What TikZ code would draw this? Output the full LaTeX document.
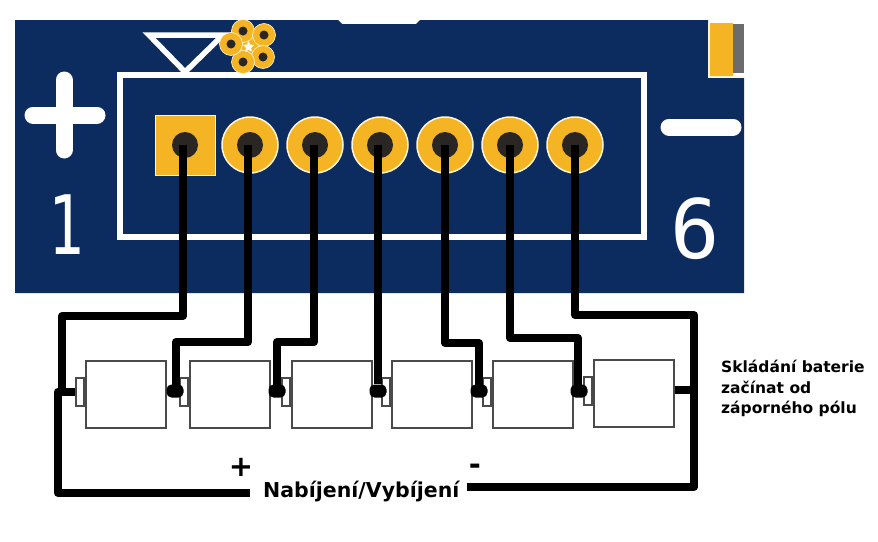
\documentclass[tikz,border=0pt]{standalone}
\usepackage{fontspec}
\setmainfont{DejaVu Sans}
\newfontfamily\silkfont{DejaVu Sans Mono}
\definecolor{navy}{HTML}{0C2B5E}
\definecolor{padyellow}{HTML}{F4B424}
\definecolor{holedark}{HTML}{2A2624}
\definecolor{rim}{HTML}{FFF6D8}
\definecolor{battline}{HTML}{4A4A4A}
\tikzset{
  silk/.style={draw=white,line width=6.5pt,line join=miter},
  bigsign/.style={draw=white,line width=17pt,line cap=round},
  roundpad/.style={circle,fill=padyellow,draw=rim,line width=1.5pt,minimum size=56pt,inner sep=0pt},
  squarepad/.style={rectangle,fill=padyellow,draw=rim,line width=1pt,minimum size=60pt,inner sep=0pt},
  hole/.style={circle,fill=holedark,minimum size=26pt,inner sep=0pt},
  viaring/.style={circle,fill=padyellow,draw=rim,line width=.6pt,minimum size=23pt,inner sep=0pt},
  viahole/.style={circle,fill=holedark,minimum size=9pt,inner sep=0pt},
  wire/.style={draw=black,line width=8pt,line join=round},
  blob/.style={rectangle,rounded corners=5pt,fill=black,minimum width=17pt,minimum height=13pt,inner sep=0pt},
  cellbody/.style={rectangle,fill=white,draw=battline,line width=2pt,minimum width=80pt,minimum height=67pt,inner sep=0pt},
  cellcap/.style={rectangle,fill=white,draw=battline,line width=2pt,minimum width=8pt,minimum height=28pt,inner sep=0pt},
  bold/.style={font=\fontsize{#1}{#1}\selectfont\bfseries,inner sep=0pt,text=black}
}
\begin{document}
\begin{tikzpicture}[x=1pt,y=-1pt]
\useasboundingbox (0,0) rectangle (878,541);
% board
\fill[navy] (15,20) -- (338,20) -- (342,24) -- (416,24) -- (420,20) -- (708,20) -- (708,78) -- (744,78) -- (744,293) -- (15,293) -- cycle;
% corner part
\fill[padyellow] (710,23) rectangle (733,76);
\fill[gray!85!black] (733,24) rectangle (744,73);
\draw[rim,line width=1.5pt] (709,23) -- (709,77) -- (744,77);
% silkscreen
\draw[silk] (120,75) rectangle (644,237);
\draw[silk,line width=5.5pt] (149,35) -- (223,35) -- (185,72) -- cycle;
\draw[bigsign] (64,80) -- (64,150);
\draw[bigsign] (33,115) -- (97,115);
\draw[bigsign] (669,127) -- (733,127);
\node[font=\fontsize{82}{82}\selectfont\silkfont,text=white,inner sep=0pt,anchor=base,xscale=.72] (one) at (66,254) {1};
\node[font=\fontsize{82}{82}\selectfont\silkfont,text=white,inner sep=0pt,anchor=base] (six) at (695,258) {6};
% via cluster
\fill[padyellow] (243,31) -- (264,35) -- (263,57) -- (243,62) -- (231,44) -- cycle;
\foreach \n/\x/\y in {a/243/31,b/264/35,c/263/57,d/243/62,e/231/44}{
  \node[viaring] (via\n) at (\x,\y) {};
}
\foreach \n in {a,b,c,d,e}{\node[viahole] at (via\n.center) {};}
\fill[white] (248.5,41) -- (250,44.5) -- (254,45) -- (251,48) -- (252,51.5) -- (248.5,50) -- (245,51.5) -- (246,48) -- (243,45) -- (247,44.5) -- cycle;
% pads
\node[squarepad] (p1) at (185,145) {};
\node[roundpad] (p2) at (250,145) {};
\node[roundpad] (p3) at (315,145) {};
\node[roundpad] (p4) at (380,145) {};
\node[roundpad] (p5) at (445,145) {};
\node[roundpad] (p6) at (510,145) {};
\node[roundpad] (p7) at (575,145) {};
\foreach \i in {1,...,7}{\node[hole] at (p\i.center) {};}
% cells
\foreach \n/\x/\y in {1/126/394.5,2/229.5/394.5,3/332/394.5,4/432/394.5,5/532.5/394.5,6/634/393.5}{
  \node[cellbody] (b\n) at (\x,\y) {};
  \node[cellcap,anchor=east] (t\n) at ([yshift=2.5pt]b\n.west) {};
}
% junctions
\node[blob] (j2) at (175,391) {};
\node[blob] (j3) at (277,391) {};
\node[blob] (j4) at (378,391) {};
\node[blob] (j5) at (479,391) {};
\node[blob] (j6) at (579,391) {};
\coordinate (j1) at (60,391.5);
\coordinate (j7) at (694,390);
% wire bends
\coordinate (w1) at (62,316);
\coordinate (w2) at (176,342);
\coordinate (w3) at (277,342);
\coordinate (w5) at (479,343);
\coordinate (w6) at (578,338);
\coordinate (w7) at (694,315);
\coordinate (endplus) at (250,493);
\coordinate (endminus) at (467,487);
% wires
\draw[wire] ([xshift=-2pt]p1.center) |- (w1) -- (w1 |- j1);
\draw[wire] ([xshift=-2pt]p2.center) |- (w2) -- (w2 |- j2);
\draw[wire] ([xshift=-1pt]p3.center) |- (w3) -- (w3 |- j3);
\draw[wire] ([xshift=-2pt]p4.center) -- (j4);
\draw[wire] (p5.center) |- (w5) -- (w5 |- j5);
\draw[wire] (p6.center) |- (w6) -- (w6 |- j6);
\draw[wire] (p7.center) |- (w7) -- (w7 |- endminus) -- (endminus);
\draw[wire] (t1.west |- j1) -- (58,391.5) -- (58,493) -- (endplus);
\draw[wire] (b6.east |- j7) -- (j7);
% labels
\node[bold=29,anchor=center] (plus) at (241,467) {+};
\node[bold=29,anchor=center] (minus) at (475,469) {-};
\node[bold=20.5,anchor=base west] (charge) at (263,497) {Nabíjení/Vybíjení};
\node[bold=15.5,anchor=base west] (note1) at (721,372) {Skládání baterie};
\node[bold=15.5,anchor=base west] (note2) at (721,393) {začínat od};
\node[bold=15.5,anchor=base west] (note3) at (721,413) {záporného pólu};
\end{tikzpicture}
\end{document}
